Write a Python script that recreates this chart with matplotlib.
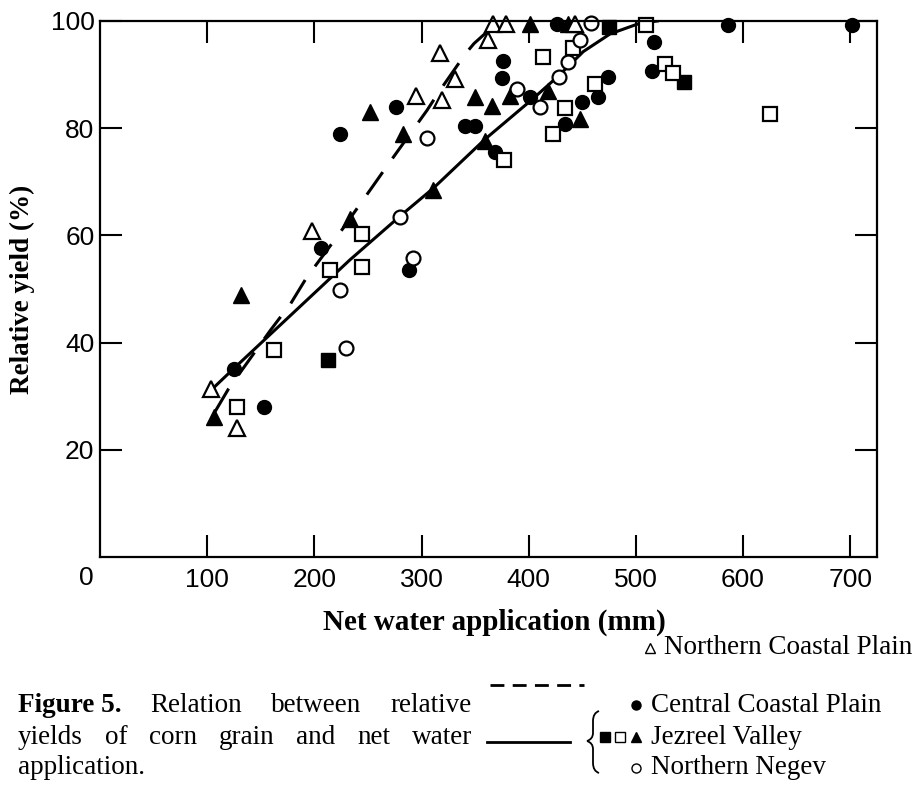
import matplotlib
matplotlib.use("Agg")
import matplotlib.pyplot as plt
from matplotlib.lines import Line2D
from matplotlib.path import Path
from matplotlib.patches import PathPatch

# values (net water application in mm, relative yield in %)
nc_x = [104, 128, 198, 295, 317, 319, 331, 362, 367, 379, 443]
nc_y = [31.4, 24, 60.8, 86.1, 94, 85.2, 89.2, 96.4, 99.5, 99.5, 99.5]

cc_x = [125, 153, 206, 224, 276, 288, 341, 350, 369, 375, 376, 401, 426, 434,
        450, 465, 474, 515, 517, 586, 702]
cc_y = [35.1, 28, 57.7, 78.9, 84, 53.5, 80.5, 80.5, 75.5, 89.4, 92.5, 85.8,
        99.5, 80.7, 84.9, 85.8, 89.5, 90.7, 96.1, 99.2, 99.2]

jv_fsq_x = [213, 475, 545]
jv_fsq_y = [36.7, 98.8, 88.6]
jv_osq_x = [128, 162, 215, 244, 244, 377, 413, 423, 434, 441, 462, 509, 527, 535, 625]
jv_osq_y = [28, 38.6, 53.5, 60.3, 54.1, 74, 93.3, 78.9, 83.8, 94.9, 88.3, 99.2,
            92, 90.3, 82.7]
jv_tri_x = [106, 132, 233, 252, 283, 311, 350, 359, 366, 383, 401, 418, 437, 448]
jv_tri_y = [26.1, 48.8, 63.1, 83, 79, 68.4, 85.8, 77.7, 84.1, 86.1, 99.4, 87,
            99.4, 81.8]

nn_x = [224, 230, 280, 292, 305, 389, 411, 428, 437, 448, 458]
nn_y = [49.8, 38.9, 63.4, 55.8, 78.2, 87.4, 84, 89.6, 92.4, 96.5, 99.6]

# fitted curves as drawn in the figure
dash_x = [107, 120, 159, 178, 193, 221, 255, 268, 305, 317, 341, 349, 359, 372]
dash_y = [27, 31.4, 42.3, 47.3, 52.2, 59.7, 69.3, 73, 83.3, 87, 93.9, 95.8, 97.6, 99.6]
solid_x = [104, 125, 233, 280, 311, 359, 404, 428, 451, 476, 504, 520]
solid_y = [31.2, 35.2, 55.4, 63.6, 68.8, 77.9, 85.5, 89.8, 94.3, 97.6, 99.6, 100]

xticks = [100, 200, 300, 400, 500, 600, 700]
yticks = [20, 40, 60, 80, 100]

W, H = 914, 788
serif = ["Liberation Serif", "DejaVu Serif"]
sans = ["Liberation Sans", "DejaVu Sans"]


def fx(px):
    return px / W


def fy(py):
    return 1 - py / H


fig = plt.figure(figsize=(W / 100, H / 100), dpi=100)
ax = fig.add_axes([fx(100), fy(557), (877 - 100) / W, (557 - 21) / H])

ax.plot(dash_x, dash_y, color="black", lw=2.2, linestyle=(0, (9, 5.5)))
ax.plot(solid_x, solid_y, color="black", lw=2.2)

ax.plot(jv_tri_x, jv_tri_y, "^", color="black", ms=11, clip_on=False)
ax.plot(jv_fsq_x, jv_fsq_y, "s", color="black", ms=9.5, clip_on=False)
ax.plot(cc_x, cc_y, "o", color="black", ms=10, clip_on=False)
ax.plot(jv_osq_x, jv_osq_y, "s", mfc="white", mec="black", mew=1.6, ms=9.5, clip_on=False)
ax.plot(nn_x, nn_y, "o", mfc="white", mec="black", mew=1.6, ms=10, clip_on=False)
ax.plot(nc_x, nc_y, "^", mfc="white", mec="black", mew=1.6, ms=11, clip_on=False)

ax.set_xlim(0, 725)
ax.set_ylim(0, 100)
ax.set_xticks(xticks)
ax.set_yticks(yticks)
ax.tick_params(direction="in", length=16, width=1.5, top=True, right=True,
               labelsize=19)
ax.tick_params(axis="x", pad=8)
ax.tick_params(axis="y", pad=4)
for lab in ax.get_xticklabels() + ax.get_yticklabels():
    lab.set_family(sans)
for sp in ax.spines.values():
    sp.set_linewidth(1.6)
ax.annotate("0", xy=(0, 0), xytext=(-10, -15), textcoords="offset points",
            ha="center", va="center", fontsize=19, family=sans)

fig.text(fx(22), fy(289), "Relative yield (%)", rotation=90, ha="center",
         va="center", fontsize=19.5, fontweight="bold", family=serif)
fig.text(fx(494), fy(622), "Net water application (mm)", ha="center",
         va="center", fontsize=21, fontweight="bold", family=serif)

# key
fs = 19.5
fig.add_artist(Line2D([fx(490), fx(584)], [fy(685), fy(685)], color="black",
                      lw=2, linestyle=(0, (5, 3))))
fig.add_artist(Line2D([fx(487), fx(570)], [fy(742), fy(742)], color="black", lw=2))

rows = [
    (648, [(650, "^", "white")], "Northern Coastal Plain", 664),
    (705, [(636, "o", "black")], "Central Coastal Plain", 651),
    (737, [(605, "s", "black"), (620, "s", "white"), (636, "^", "black")],
     "Jezreel Valley", 651),
    (768, [(636, "o", "white")], "Northern Negev", 651),
]
for y, marks, label, tx in rows:
    for x, m, fc in marks:
        fig.add_artist(Line2D([fx(x)], [fy(y)], marker=m, ms=6.5, mfc=fc,
                              mec="black", mew=1, linestyle=""))
    fig.text(fx(tx), fy(y), label, ha="left", va="center", fontsize=fs,
             family=serif)

# brace grouping the solid-line regions
bx, top, mid, bot = 593, 711, 741, 773
verts = [(bx + 6, top), (bx, top + 2), (bx, top + 10), (bx, mid - 8),
         (bx, mid - 2), (bx - 6, mid), (bx - 6, mid),
         (bx, mid + 2), (bx, mid + 8), (bx, bot - 10), (bx, bot - 2), (bx + 6, bot)]
codes = [Path.MOVETO, Path.CURVE3, Path.CURVE3, Path.LINETO,
         Path.CURVE3, Path.CURVE3, Path.MOVETO,
         Path.CURVE3, Path.CURVE3, Path.LINETO, Path.CURVE3, Path.CURVE3]
fig.add_artist(PathPatch(Path([(fx(a), fy(b)) for a, b in verts], codes),
                         transform=fig.transFigure, fill=False, lw=1.3,
                         edgecolor="black"))

# caption, justified between two margins
cap_left, cap_right = 18, 472
cap_lines = [
    (705, [("Figure 5.", "bold"), ("Relation", "normal"), ("between", "normal"),
           ("relative", "normal")]),
    (737, [(w, "normal") for w in "yields of corn grain and net water".split()]),
]
renderer = fig.canvas.get_renderer()
for y, words in cap_lines:
    texts = [fig.text(0, fy(y), w, ha="left", va="center", fontsize=fs,
                      fontweight=wt, family=serif) for w, wt in words]
    widths = [t.get_window_extent(renderer).width for t in texts]
    gap = (cap_right - cap_left - sum(widths)) / (len(texts) - 1)
    x = cap_left
    for t, w in zip(texts, widths):
        t.set_x(fx(x))
        x += w + gap
fig.text(fx(cap_left), fy(768), "application.", ha="left", va="center",
         fontsize=fs, family=serif)

fig.savefig("out.png", dpi=100, facecolor="white")
